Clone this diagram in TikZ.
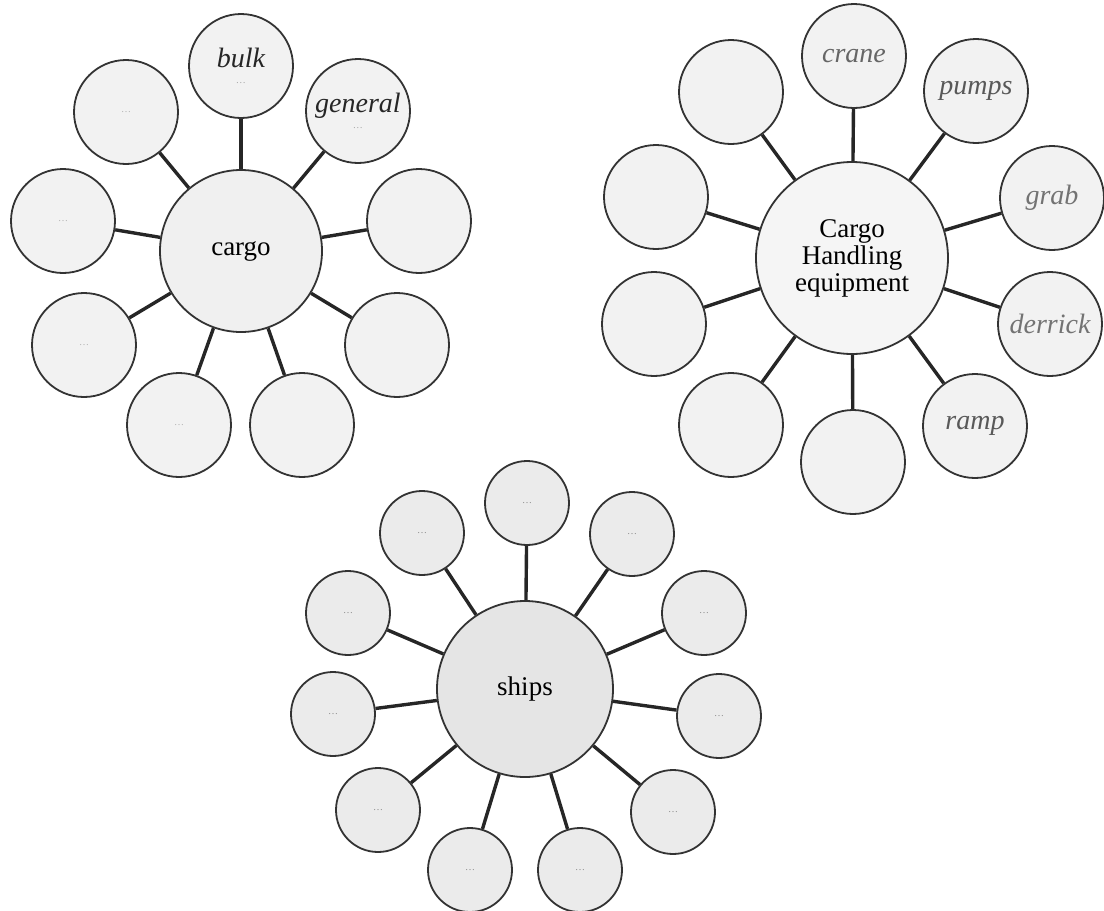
\documentclass[tikz,border=0pt]{standalone}
\usepackage{fontspec}
\setmainfont{Liberation Serif}

\begin{document}
\begin{tikzpicture}[x=0.5pt,y=-0.5pt,
    hub/.style={circle,draw=black!80,line width=0.9pt,fill=black!6,inner sep=0pt,align=center,font=\fontsize{13.5}{13.5}\selectfont},
    leaf/.style={circle,draw=black!80,line width=0.9pt,fill=black!5,inner sep=0pt,align=center},
    spoke/.style={line width=1.7pt,black!85},
    hand/.style={font=\fontsize{14}{14}\selectfont\itshape},
    faint/.style={text=black!30,font=\tiny}]
  \useasboundingbox (0,0) rectangle (1104,911);

  % cargo
  \node[hub,minimum size=81pt] (cargo) at (241,251) {cargo};
  \node[leaf,minimum size=52pt,hand,text=black!85] (bulk) at (241,66) {bulk\\[-6pt]{\color{black!35}\tiny\dots}};
  \node[leaf,minimum size=52pt,hand,text=black!85] (general) at (358,111) {general\\[-6pt]{\color{black!35}\tiny\dots}};
  \node[leaf,minimum size=52pt,faint] (cargo3) at (419,221) {};
  \node[leaf,minimum size=52pt,faint] (cargo4) at (397,345) {};
  \node[leaf,minimum size=52pt,faint] (cargo5) at (302,425) {};
  \node[leaf,minimum size=52pt,faint] (cargo6) at (179,425) {\dots};
  \node[leaf,minimum size=52pt,faint] (cargo7) at (84,345) {\dots};
  \node[leaf,minimum size=52pt,faint] (cargo8) at (63,221) {\dots};
  \node[leaf,minimum size=52pt,faint] (cargo9) at (126,112) {\dots};
  \draw[spoke] (cargo) -- (bulk);   \draw[spoke] (cargo) -- (general);
  \draw[spoke] (cargo) -- (cargo3); \draw[spoke] (cargo) -- (cargo4);
  \draw[spoke] (cargo) -- (cargo5); \draw[spoke] (cargo) -- (cargo6);
  \draw[spoke] (cargo) -- (cargo7); \draw[spoke] (cargo) -- (cargo8);
  \draw[spoke] (cargo) -- (cargo9);

  % cargo handling equipment
  \node[hub,minimum size=96pt,fill=black!4] (handl) at (852,258) {Cargo\\Handling\\equipment};
  \node[leaf,minimum size=52pt,hand,text=black!60] (crane) at (854,56) {crane};
  \node[leaf,minimum size=52pt,hand,text=black!65] (pumps) at (976,91) {pumps};
  \node[leaf,minimum size=52pt,hand,text=black!55] (grab) at (1052,198) {grab};
  \node[leaf,minimum size=52pt,hand,text=black!55] (derrick) at (1050,324) {derrick};
  \node[leaf,minimum size=52pt,hand,text=black!65] (ramp) at (975,426) {ramp};
  \node[leaf,minimum size=52pt] (handl6) at (853,462) {};
  \node[leaf,minimum size=52pt] (handl7) at (731,425) {};
  \node[leaf,minimum size=52pt] (handl8) at (654,324) {};
  \node[leaf,minimum size=52pt] (handl9) at (656,197) {};
  \node[leaf,minimum size=52pt] (handl10) at (731,92) {};
  \draw[spoke] (handl) -- (crane);   \draw[spoke] (handl) -- (pumps);
  \draw[spoke] (handl) -- (grab);    \draw[spoke] (handl) -- (derrick);
  \draw[spoke] (handl) -- (ramp);    \draw[spoke] (handl) -- (handl6);
  \draw[spoke] (handl) -- (handl7);  \draw[spoke] (handl) -- (handl8);
  \draw[spoke] (handl) -- (handl9);  \draw[spoke] (handl) -- (handl10);

  % ships
  \node[hub,minimum size=88pt,fill=black!10] (ships) at (525,689) {ships};
  \node[leaf,minimum size=42pt,faint,text=black!45,fill=black!8] (ship1) at (527,503) {\dots};
  \node[leaf,minimum size=42pt,faint,text=black!45,fill=black!8] (ship2) at (632,534) {\dots};
  \node[leaf,minimum size=42pt,faint,text=black!45,fill=black!8] (ship3) at (704,613) {\dots};
  \node[leaf,minimum size=42pt,faint,text=black!45,fill=black!8] (ship4) at (719,716) {\dots};
  \node[leaf,minimum size=42pt,faint,text=black!45,fill=black!8] (ship5) at (673,812) {\dots};
  \node[leaf,minimum size=42pt,faint,text=black!45,fill=black!8] (ship6) at (580,870) {\dots};
  \node[leaf,minimum size=42pt,faint,text=black!45,fill=black!8] (ship7) at (470,870) {\dots};
  \node[leaf,minimum size=42pt,faint,text=black!45,fill=black!8] (ship8) at (378,810) {\dots};
  \node[leaf,minimum size=42pt,faint,text=black!45,fill=black!8] (ship9) at (333,714) {\dots};
  \node[leaf,minimum size=42pt,faint,text=black!45,fill=black!8] (ship10) at (348,613) {\dots};
  \node[leaf,minimum size=42pt,faint,text=black!45,fill=black!8] (ship11) at (422,533) {\dots};
  \draw[spoke] (ships) -- (ship1);  \draw[spoke] (ships) -- (ship2);
  \draw[spoke] (ships) -- (ship3);  \draw[spoke] (ships) -- (ship4);
  \draw[spoke] (ships) -- (ship5);  \draw[spoke] (ships) -- (ship6);
  \draw[spoke] (ships) -- (ship7);  \draw[spoke] (ships) -- (ship8);
  \draw[spoke] (ships) -- (ship9);  \draw[spoke] (ships) -- (ship10);
  \draw[spoke] (ships) -- (ship11);
\end{tikzpicture}
\end{document}
